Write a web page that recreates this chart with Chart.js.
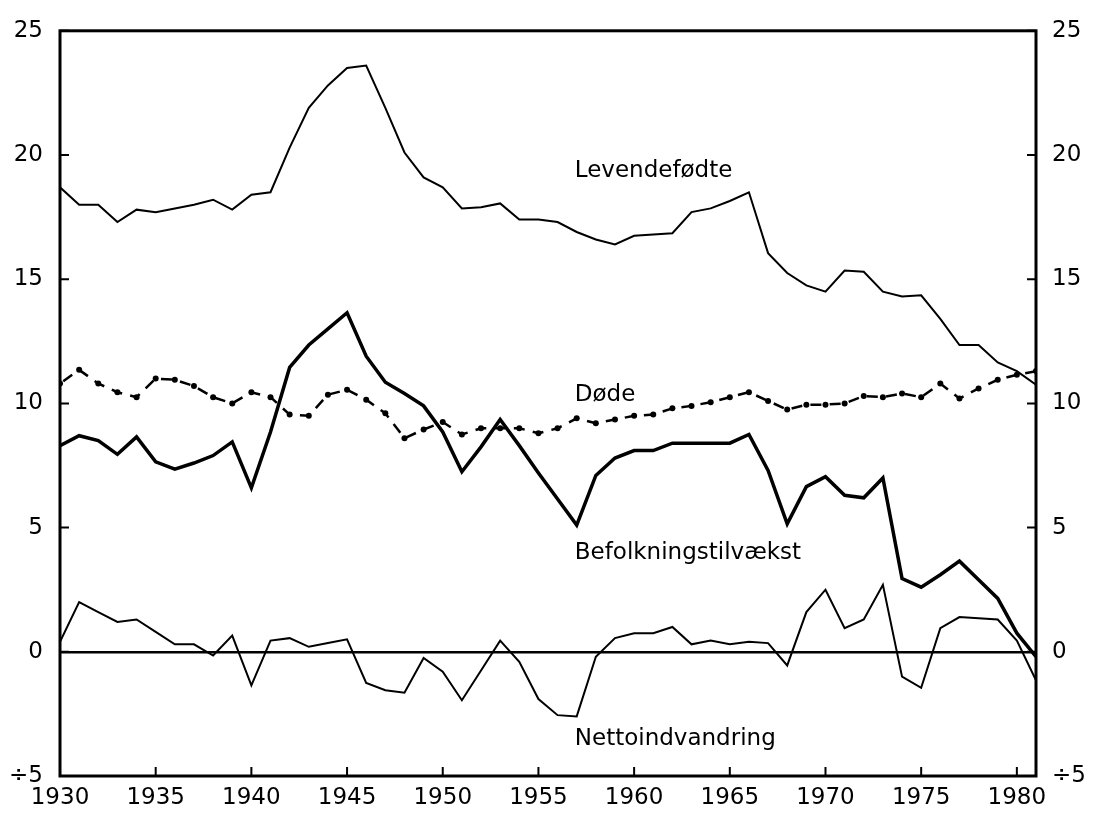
<!DOCTYPE html>
<html>
<head>
<meta charset="utf-8">
<script src="https://cdn.jsdelivr.net/npm/chart.js@4.4.1/dist/chart.umd.min.js"></script>
<style>
  html, body { margin: 0; padding: 0; background: #fff; }
  canvas { display: block; }
</style>
</head>
<body>
<canvas id="chart" width="1096" height="813"></canvas>
<script>
// years on the x axis
var years = [1930, 1931, 1932, 1933, 1934, 1935, 1936, 1937, 1938, 1939,
  1940, 1941, 1942, 1943, 1944, 1945, 1946, 1947, 1948, 1949,
  1950, 1951, 1952, 1953, 1954, 1955, 1956, 1957, 1958, 1959,
  1960, 1961, 1962, 1963, 1964, 1965, 1966, 1967, 1968, 1969,
  1970, 1971, 1972, 1973, 1974, 1975, 1976, 1977, 1978, 1979,
  1980, 1981];

// per 1000 inhabitants
var levendefodte = [18.7, 18.0, 18.0, 17.3, 17.8, 17.7, 17.85, 18.0, 18.2, 17.8,
  18.4, 18.5, 20.3, 21.9, 22.8, 23.5, 23.6, 21.9, 20.1, 19.1,
  18.7, 17.85, 17.9, 18.05, 17.4, 17.4, 17.3, 16.9, 16.6, 16.4,
  16.75, 16.8, 16.85, 17.7, 17.85, 18.15, 18.5, 16.05, 15.25, 14.75,
  14.5, 15.35, 15.3, 14.5, 14.3, 14.35, 13.4, 12.35, 12.35, 11.65,
  11.3, 10.75];

var dode = [10.8, 11.35, 10.8, 10.45, 10.25, 11.0, 10.95, 10.7, 10.25, 10.0,
  10.45, 10.25, 9.55, 9.5, 10.35, 10.55, 10.15, 9.6, 8.6, 8.95,
  9.25, 8.75, 9.0, 9.0, 9.0, 8.8, 9.0, 9.4, 9.2, 9.35,
  9.5, 9.55, 9.8, 9.9, 10.05, 10.25, 10.45, 10.1, 9.75, 9.95,
  9.95, 10.0, 10.3, 10.25, 10.4, 10.25, 10.8, 10.2, 10.6, 10.95,
  11.15, 11.3];

var befolkning = [8.3, 8.7, 8.5, 7.95, 8.65, 7.65, 7.35, 7.6, 7.9, 8.45,
  6.6, 8.85, 11.45, 12.35, 13.0, 13.65, 11.9, 10.85, 10.4, 9.9,
  8.85, 7.25, 8.25, 9.35, 8.3, 7.2, 6.15, 5.1, 7.1, 7.8,
  8.1, 8.1, 8.4, 8.4, 8.4, 8.4, 8.75, 7.3, 5.15, 6.65,
  7.05, 6.3, 6.2, 7.0, 2.95, 2.6, 3.1, 3.65, 2.9, 2.15,
  0.75, -0.2];

var netto = [0.4, 2.0, 1.6, 1.2, 1.3, 0.8, 0.3, 0.3, -0.15, 0.65,
  -1.35, 0.45, 0.55, 0.2, 0.35, 0.5, -1.25, -1.55, -1.65, -0.25,
  -0.8, -1.95, -0.75, 0.45, -0.4, -1.9, -2.55, -2.6, -0.2, 0.55,
  0.75, 0.75, 1.0, 0.3, 0.45, 0.3, 0.4, 0.35, -0.55, 1.6,
  2.5, 0.95, 1.3, 2.7, -1.0, -1.45, 0.95, 1.4, 1.35, 1.3,
  0.45, -1.15];

// ticks
var xTicks = [1930, 1935, 1940, 1945, 1950, 1955, 1960, 1965, 1970, 1975, 1980];
var yTicks = [-5, 0, 5, 10, 15, 20, 25];
var yTickLabels = ['÷5', '0', '5', '10', '15', '20', '25'];

// text labels next to the curves: [text, year, value at baseline]
var seriesNames = ['Levendefødte', 'Døde', 'Befolkningstilvækst', 'Nettoindvandring'];
var nameYears = [1956.9, 1956.9, 1956.9, 1956.9];
var nameValues = [19.1, 10.1, 3.75, -3.75];

var FONT = 'DejaVu Sans';

function points(arr) {
  return years.map(function (yr, i) { return { x: yr, y: arr[i] }; });
}

function yLabel(v) {
  var i = yTicks.indexOf(v);
  return i < 0 ? '' : yTickLabels[i];
}

var frame = {
  id: 'frame',
  afterDraw: function (chart) {
    var ctx = chart.ctx;
    var a = chart.chartArea;
    var sx = chart.scales.x, sy = chart.scales.y;
    ctx.save();
    ctx.strokeStyle = '#000';
    ctx.lineWidth = 3;
    ctx.strokeRect(a.left, a.top, a.right - a.left, a.bottom - a.top);

    // inward tick marks
    ctx.lineWidth = 2;
    ctx.beginPath();
    yTicks.forEach(function (v) {
      var py = sy.getPixelForValue(v);
      ctx.moveTo(a.left, py); ctx.lineTo(a.left + 9, py);
      ctx.moveTo(a.right, py); ctx.lineTo(a.right - 9, py);
    });
    xTicks.forEach(function (v) {
      var px = sx.getPixelForValue(v);
      ctx.moveTo(px, a.bottom); ctx.lineTo(px, a.bottom - 9);
    });
    ctx.stroke();

    // curve names
    ctx.fillStyle = '#000';
    ctx.font = '23px "' + FONT + '"';
    ctx.textAlign = 'left';
    ctx.textBaseline = 'alphabetic';
    seriesNames.forEach(function (name, i) {
      ctx.fillText(name, sx.getPixelForValue(nameYears[i]), sy.getPixelForValue(nameValues[i]));
    });
    ctx.restore();
  }
};

var ctx = document.getElementById('chart').getContext('2d');
var myChart = new Chart(ctx, {
  type: 'line',
  data: {
    datasets: [{
      label: 'Levendefødte',
      data: points(levendefodte),
      borderColor: '#000',
      borderWidth: 2,
      pointRadius: 0
    }, {
      label: 'Døde',
      data: points(dode),
      borderColor: '#000',
      backgroundColor: '#000',
      borderWidth: 2.5,
      borderDash: [11, 8.3],
      borderDashOffset: 15.3,
      pointRadius: 3,
      pointBorderWidth: 0
    }, {
      label: 'Befolkningstilvækst',
      data: points(befolkning),
      borderColor: '#000',
      borderWidth: 3.5,
      pointRadius: 0
    }, {
      label: 'Nettoindvandring',
      data: points(netto),
      borderColor: '#000',
      borderWidth: 2,
      pointRadius: 0
    }]
  },
  options: {
    responsive: false,
    animation: false,
    devicePixelRatio: 1,
    layout: { padding: { top: 28, left: 0, right: 0, bottom: 0 } },
    elements: { line: { tension: 0, borderJoinStyle: 'miter', borderCapStyle: 'butt' } },
    plugins: {
      legend: { display: false },
      tooltip: { enabled: false }
    },
    scales: {
      x: {
        type: 'linear',
        min: 1930,
        max: 1981,
        afterBuildTicks: function (s) {
          s.ticks = xTicks.map(function (v) { return { value: v }; });
        },
        afterFit: function (s) { s.height = 37; },
        grid: { display: false, drawTicks: false },
        border: { display: false },
        ticks: {
          padding: 8,
          color: '#000',
          font: { family: FONT, size: 23 },
          maxRotation: 0,
          callback: function (v) { return String(v); }
        }
      },
      y: {
        position: 'left',
        min: -5,
        max: 25,
        afterBuildTicks: function (s) {
          s.ticks = yTicks.map(function (v) { return { value: v }; });
        },
        afterFit: function (s) { s.width = 60; },
        grid: {
          drawTicks: false,
          lineWidth: 2.5,
          color: function (c) { return c.tick && c.tick.value === 0 ? '#000' : 'rgba(0,0,0,0)'; }
        },
        border: { display: false },
        ticks: {
          padding: 17,
          color: '#000',
          font: { family: FONT, size: 23 },
          callback: yLabel
        }
      },
      y2: {
        position: 'right',
        min: -5,
        max: 25,
        afterBuildTicks: function (s) {
          s.ticks = yTicks.map(function (v) { return { value: v }; });
        },
        afterFit: function (s) { s.width = 60; },
        grid: { display: false, drawTicks: false },
        border: { display: false },
        ticks: {
          padding: 16,
          color: '#000',
          font: { family: FONT, size: 23 },
          callback: yLabel
        }
      }
    }
  },
  plugins: [frame]
});
</script>
</body>
</html>
